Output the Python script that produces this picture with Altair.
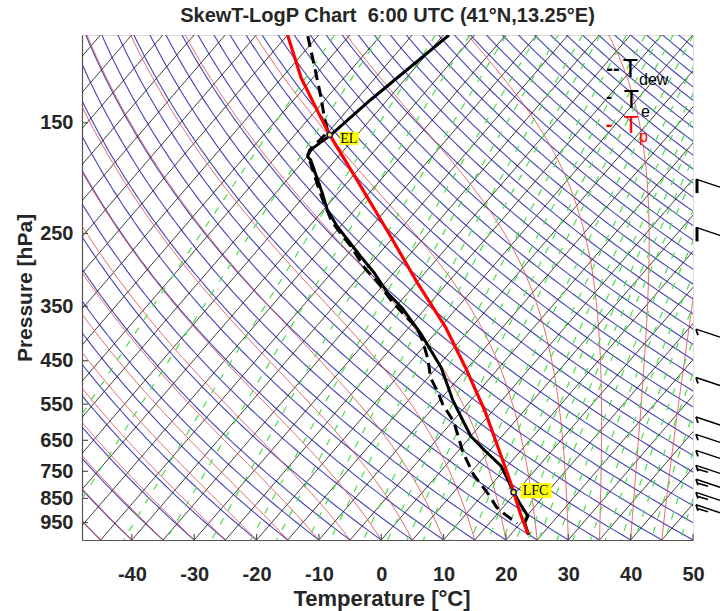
import numpy as np
import pandas as pd
import altair as alt

# ---------------- diagram geometry ----------------
P_TOP, P_BOT = 100.0, 1030.0      # hPa, top and bottom of the diagram
SKEW = 30.0                       # horizontal shift (°C) per e-fold of pressure
X_MIN, X_MAX = -48.0, 50.0        # skewed temperature range at the bottom
W, H = 611, 505

# ---------------- sounding ----------------
te_p = [100, 135, 158.6, 170, 175.5, 178, 207.6, 224.2, 242.1, 257.4, 278, 300.2,
        329.2, 352.8, 399, 465.3, 540, 581.6, 637.9, 678.2, 732.5, 778.9, 825.9,
        867.1, 922.4, 951, 1005]
te_t = [-59.1, -62.7, -64.2, -65.4, -64.9, -64.0, -57.5, -54.4, -50.5, -47.0, -42.6,
        -38.1, -33.2, -28.8, -22.0, -14.2, -7.9, -4.4, 0.0, 3.9, 9.0, 11.9, 14.6,
        17.0, 20.2, 20.6, 22.9]

td_p = [100.5, 115.4, 131.9, 146.6, 156.4, 170, 175.5, 180.5, 206.3, 221.1, 236.9,
        250.4, 264.6, 292.9, 315.3, 339.5, 368.9, 386.3, 412.1, 447.7, 486.5, 526.2,
        551.0, 595.9, 641.6, 684.5, 761.1, 797.0, 834.6, 886.1, 915.2, 954.0]
td_t = [-81.6, -76.4, -71.4, -67.6, -65.1, -65.5, -65.0, -63.6, -58.1, -55.1, -52.0,
        -48.9, -45.7, -40.4, -35.9, -31.8, -26.7, -23.7, -20.8, -17.5, -14.6, -10.9,
        -8.9, -4.8, -1.8, 0.8, 5.7, 8.3, 10.9, 14.0, 16.3, 19.5]

tp_p = [100, 122.1, 146.8, 158.6, 193.7, 247.8, 316.8, 386.9, 465.3, 568.3, 694.0,
        809.2, 825.9, 915.2, 1003.8]
tp_t = [-85.0, -76.8, -68.1, -64.4, -54.2, -41.7, -29.4, -19.0, -10.3, -1.2, 7.3,
        13.8, 14.6, 18.8, 22.8]

el_p, el_t = 158.6, -64.4
lfc_p, lfc_t = 825.9, 14.6

# wind barbs: levels with a pennant, and levels with plain feathers
barb_flag_p = [200, 250]
barb_feather_p = [400, 500, 600, 650, 700, 750, 800, 850, 900]
barb_double_p = [750, 800, 850, 900]

# ---------------- background line families ----------------
isotherms = list(range(-120, 55, 5))          # °C
dry_theta = list(range(-50, 235, 5))          # °C at the bottom pressure
moist_tw = list(range(-45, 55, 5))            # °C at the bottom pressure
mix_ratio = [0.01, 0.03, 0.1, 0.2, 0.4, 0.7, 1, 1.5, 2, 3, 4, 5, 6, 8, 10, 12, 14,
             16, 18, 20, 24, 28, 33, 38, 44, 50, 58, 66, 76, 86]   # g/kg

x_ticks = list(range(-40, 60, 10))
p_ticks = list(range(150, 1000, 100))

# ---------------- thermodynamics ----------------
RD, RV, CP, LV = 287.04, 461.5, 1005.7, 2.501e6
EPS = RD / RV
KAPPA = RD / CP


def es(tc):
    return 6.112 * np.exp(17.67 * tc / (tc + 243.5))


def dT_dlnp(tk, p):
    e = es(tk - 273.15)
    r = EPS * e / (p - e)
    return (RD * tk + LV * r) / (CP + LV * LV * r * EPS / (RD * tk * tk))


def moist_curve(t0):
    lnp = np.linspace(np.log(P_BOT), np.log(P_TOP), 120)
    tk = t0 + 273.15
    out = [tk]
    for a, b in zip(lnp[:-1], lnp[1:]):
        h = b - a
        k1 = dT_dlnp(tk, np.exp(a))
        k2 = dT_dlnp(tk + h * k1 / 2, np.exp(a + h / 2))
        k3 = dT_dlnp(tk + h * k2 / 2, np.exp(a + h / 2))
        k4 = dT_dlnp(tk + h * k3, np.exp(b))
        tk = tk + h * (k1 + 2 * k2 + 2 * k3 + k4) / 6
        out.append(tk)
    return np.array(out) - 273.15, np.exp(lnp)


def skew_x(t, p):
    return np.asarray(t, float) + SKEW * np.log(P_BOT / np.asarray(p, float))


def family(curves):
    parts = []
    for k, (t, p) in enumerate(curves):
        parts.append(pd.DataFrame({"id": k, "i": np.arange(len(p)),
                                   "x": np.round(skew_x(t, p), 3),
                                   "p": np.round(p, 3)}))
    return pd.concat(parts, ignore_index=True)


PG = np.geomspace(P_TOP, P_BOT, 90)
iso_df = family([(np.array([t, t]), np.array([P_TOP, P_BOT])) for t in isotherms])
dry_df = family([((th + 273.15) * (PG / P_BOT) ** KAPPA - 273.15, PG) for th in dry_theta])
moist_df = family([moist_curve(t) for t in moist_tw])


def mix_curve(w):
    e = (w / 1000.0) * PG / (EPS + w / 1000.0)
    a = np.log(e / 6.112)
    return 243.5 * a / (17.67 - a), PG


mix_df = family([mix_curve(w) for w in mix_ratio])


def profile(p, t):
    return pd.DataFrame({"i": np.arange(len(p)), "x": skew_x(t, p), "p": p})


te_df = profile(te_p, te_t)
td_df = profile(td_p, td_t)
tp_df = profile(tp_p, tp_t)
pts_df = pd.DataFrame({"x": skew_x([el_t, lfc_t], [el_p, lfc_p]), "p": [el_p, lfc_p],
                       "lab": ["EL", "LFC"]})

# ---------------- scales & axes ----------------
SANS = "Liberation Sans, Arial, Helvetica, sans-serif"
INK = "#262626"

x_axis = alt.Axis(values=x_ticks, labelExpr="datum.value + ''", title="Temperature [°C]",
                  ticks=False, grid=False, labelFlush=False, labelOverlap=False,
                  labelFont=SANS, labelFontSize=20, labelFontWeight="bold", labelColor=INK,
                  labelPadding=24, domainColor="#555555", domainWidth=1.2,
                  titleFont=SANS, titleFontSize=22, titleFontWeight="bold", titleColor=INK,
                  titleBaseline="alphabetic", titleY=65, titleX=W / 2 - 6)
y_axis = alt.Axis(values=p_ticks, labelExpr="datum.value + ''", title="Pressure [hPa]",
                  ticks=False, grid=False, labelFlush=False, labelOverlap=False,
                  labelFont=SANS, labelFontSize=20, labelFontWeight="bold", labelColor=INK,
                  labelPadding=9, domainColor="#555555", domainWidth=1.2,
                  titleFont=SANS, titleFontSize=21, titleFontWeight="bold", titleColor=INK,
                  titleAngle=270, titleBaseline="alphabetic", titleX=-51, titleY=H / 2)

xs = alt.Scale(domain=[X_MIN, X_MAX], nice=False, zero=False)
ys = alt.Scale(type="log", domain=[P_TOP, P_BOT], reverse=True, nice=False, zero=False)
X = alt.X("x:Q", scale=xs, axis=x_axis)
Y = alt.Y("p:Q", scale=ys, axis=y_axis)


def lines(df, **mark):
    return alt.Chart(df).mark_line(clip=True, **mark).encode(
        x=X, y=Y, detail="id:N", order="i:Q")


dry = lines(dry_df, color="#3a3ab4", strokeWidth=1.1, opacity=0.95)
iso = lines(iso_df, color="#1e1e1e", strokeWidth=1.0, opacity=0.85)
moist = lines(moist_df, color="#e04848", strokeWidth=0.9, opacity=0.9)
mix = lines(mix_df, color="#4cdc4c", strokeWidth=1.2, strokeDash=[7, 9])


def prof(df, **mark):
    return alt.Chart(df).mark_line(clip=True, strokeJoin="round", **mark).encode(
        x=X, y=Y, order="i:Q")


tdew = prof(td_df, color="black", strokeWidth=3, strokeDash=[11, 6])
tenv = prof(te_df, color="black", strokeWidth=3)
tpar = prof(tp_df, color="#ff0000", strokeWidth=3.2)

# inward ticks on the two drawn axes
xt_df = pd.DataFrame({"x": x_ticks, "p": P_BOT})
yt_df = pd.DataFrame({"p": p_ticks, "x": X_MIN})
xticks = alt.Chart(xt_df).mark_rule(color="#555555", strokeWidth=1.2, y2Offset=-6).encode(
    x=X, y=Y, y2="p:Q")
yticks = alt.Chart(yt_df).mark_rule(color="#555555", strokeWidth=1.2, x2Offset=6).encode(
    x=X, x2="x:Q", y=Y)

# EL / LFC markers and tags
el_df = pts_df[pts_df.lab == "EL"]
lfc_df = pts_df[pts_df.lab == "LFC"]
tag_bg = (alt.Chart(el_df).mark_rect(color="#ffff00", xOffset=10, x2Offset=29,
                                     yOffset=-3, y2Offset=10)
          .encode(x=X, x2="x:Q", y=Y, y2="p:Q")
          + alt.Chart(lfc_df).mark_rect(color="#ffff00", xOffset=7, x2Offset=38,
                                        yOffset=-9, y2Offset=6)
          .encode(x=X, x2="x:Q", y=Y, y2="p:Q"))
SERIF = "Liberation Serif, Times New Roman, serif"
tag_txt = (alt.Chart(el_df).mark_text(font=SERIF, fontSize=14, dx=19, dy=4, color="black")
           .encode(x=X, y=Y, text="lab:N")
           + alt.Chart(lfc_df).mark_text(font=SERIF, fontSize=14, dx=22, dy=-1, color="black")
           .encode(x=X, y=Y, text="lab:N"))
dots = alt.Chart(pts_df).mark_point(shape="circle", filled=True, size=28, fill="#ffff33",
                                    stroke="#1a1a60", strokeWidth=1.6, opacity=1).encode(x=X, y=Y)

# wind barbs along the right edge
all_barbs = pd.DataFrame({"p": barb_flag_p + barb_feather_p, "x": X_MAX})
staff = alt.Chart(all_barbs).mark_rule(color="black", strokeWidth=1.4, xOffset=3, yOffset=-6,
                                       x2Offset=27, y2Offset=2).encode(
    x=X, x2="x:Q", y=Y, y2="p:Q")
flag = alt.Chart(pd.DataFrame({"p": barb_flag_p, "x": X_MAX})).mark_rule(
    color="black", strokeWidth=3, xOffset=4, x2Offset=4, yOffset=-6, y2Offset=8).encode(
    x=X, x2="x:Q", y=Y, y2="p:Q")
feath = alt.Chart(pd.DataFrame({"p": barb_feather_p, "x": X_MAX})).mark_rule(
    color="black", strokeWidth=1.8, xOffset=3, x2Offset=5, yOffset=-6, y2Offset=0).encode(
    x=X, x2="x:Q", y=Y, y2="p:Q")
feath2 = alt.Chart(pd.DataFrame({"p": barb_double_p, "x": X_MAX})).mark_rule(
    color="black", strokeWidth=1.6, xOffset=5, x2Offset=15, yOffset=-2, y2Offset=1).encode(
    x=X, x2="x:Q", y=Y, y2="p:Q")


# legend built from text runs
def txt(s, x, y, size, color="black", align="center", weight="normal"):
    return alt.Chart(pd.DataFrame({"s": [s]})).mark_text(
        font=SANS, fontSize=size, color=color, align=align, baseline="alphabetic",
        fontWeight=weight).encode(x=alt.value(x), y=alt.value(y), text="s:N")


legend = (txt("--", 531, 40, 20, weight="bold") + txt("T", 548.5, 42, 25)
          + txt("dew", 557, 50, 16, align="left")
          + txt("-", 527, 68, 18, weight="bold") + txt("T", 549.5, 73, 25)
          + txt("e", 559, 82, 16, align="left")
          + txt("-", 527, 96, 20, color="#ff0000", weight="bold")
          + txt("T", 549, 98, 24, color="#ff0000")
          + txt("p", 557, 107, 16, color="#ff0000", align="left"))

chart = alt.layer(
    dry, iso, moist, mix, tdew, tenv, tpar, xticks, yticks,
    tag_bg, tag_txt, dots, staff, flag, feath, feath2, legend,
).properties(
    width=W, height=H,
    title=alt.TitleParams("SkewT-LogP Chart\u00a0 6:00 UTC (41°N,13.25°E)", font=SANS,
                          fontSize=20, fontWeight="bold", color=INK, anchor="middle",
                          offset=9),
    padding={"left": 82, "top": 35, "right": 31, "bottom": 71},
    autosize=alt.AutoSizeParams(type="none"),
).configure_view(stroke=None).configure(background="white")

chart.save("out.html", embed_options={"renderer": "svg", "actions": False})
